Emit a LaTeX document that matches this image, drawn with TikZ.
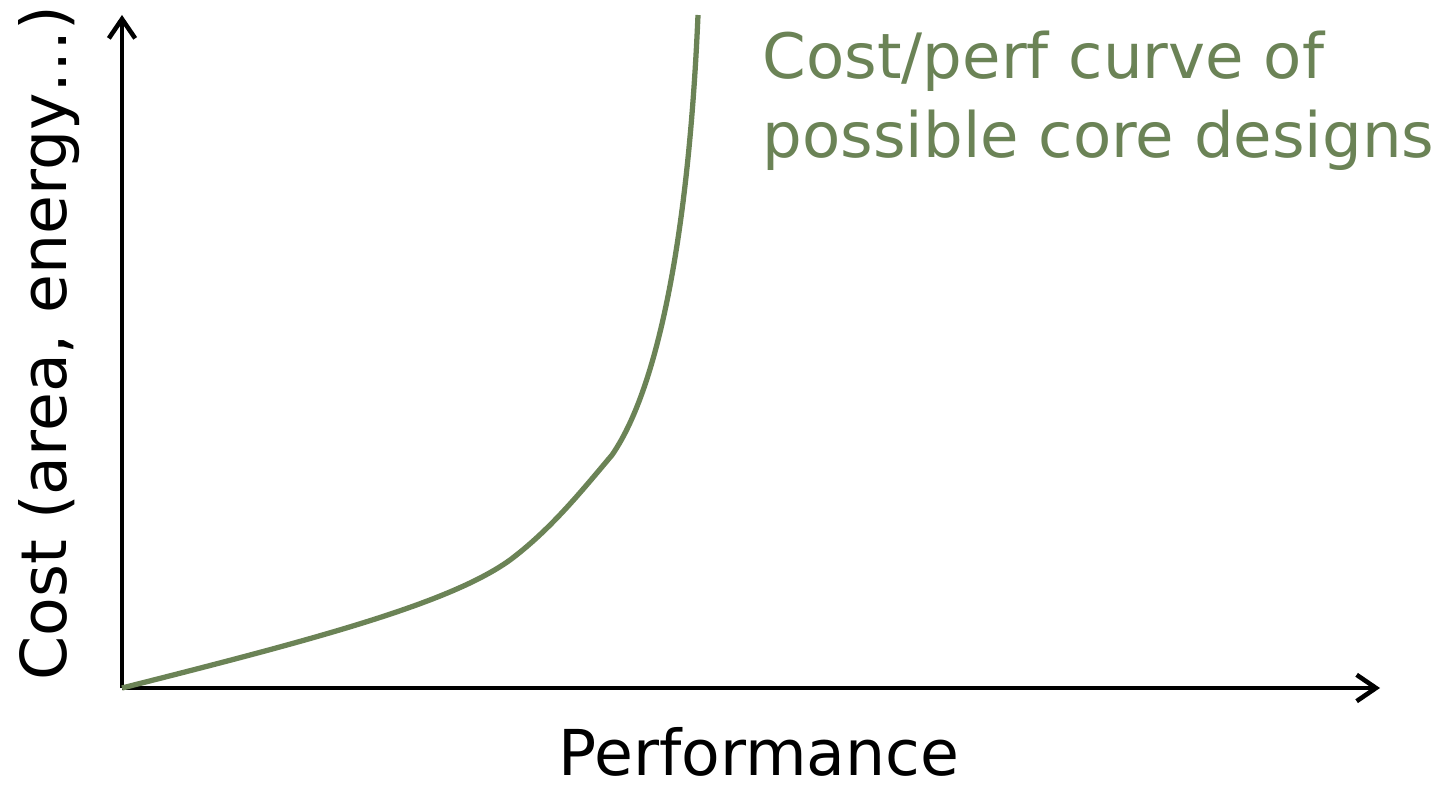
\documentclass[tikz,border=0pt]{standalone}
\usepackage{fontspec}
\setmainfont{DejaVu Sans}
\usepackage{tikz}
\usetikzlibrary{arrows.meta,calc,positioning}
\definecolor{curvegreen}{RGB}{107,131,86}

\begin{document}
\begin{tikzpicture}[axis/.style={line width=1.3pt,-{Straight Barb[length=5.5pt,width=7.5pt,line width=1.3pt]}}]
\useasboundingbox (0,0) rectangle (14.55,7.88);
\coordinate (O) at (1.22,1.00);
\coordinate (Y) at (1.22,7.73);
\coordinate (X) at (13.80,1.00);
\draw[axis] (O) -- (Y);
\draw[axis] (O) -- (X);
\node[anchor=base,inner sep=0pt,font=\fontsize{18}{22}\selectfont] (perf) at (7.59,0.13) {Performance};
\node[anchor=base,rotate=90,font=\fontsize{18}{22}\selectfont] (cost) at (0.67,4.45) {Cost (area, energy…)};
% the cost/perf curve
\coordinate (M) at (5.10,2.28);
\coordinate (K) at (6.12,3.33);
\coordinate (T) at (6.98,7.73);
\draw[curvegreen,line width=1.5pt] (O) .. controls (3.2,1.50) and (4.5,1.85) .. (M) .. controls (5.5,2.58) and (5.8,2.95) .. (K) .. controls (6.55,3.95) and (6.88,5.40) .. (T);
\node[anchor=north west,align=left,inner sep=0pt,text=curvegreen,font=\fontsize{17.8}{22.5}\selectfont] (curvelbl) at (7.62,7.58) {Cost/perf curve of\\possible core designs};
\end{tikzpicture}
\end{document}
